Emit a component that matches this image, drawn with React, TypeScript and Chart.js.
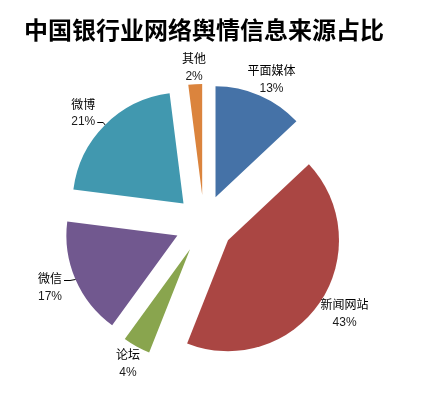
import React, { useEffect, useRef } from "react";
import { Chart, registerables } from "chart.js";

Chart.register(...registerables);

const TITLE = "中国银行业网络舆情信息来源占比";
const categories = ["平面媒体", "新闻网站", "论坛", "微信", "微博", "其他"];
const shares = [13, 43, 4, 17, 21, 2];
const sliceColors = ["#4572A7", "#AA4643", "#89A54E", "#71588F", "#4198AF", "#DB843D"];

const EXPLODE = 29;
const RADIUS = 111;
const LABEL_GAP = 6;
const LABEL_H = 24;
const LEADER_PUSH = 9;
const NAME_FONT = "12px 'Noto Sans CJK SC', sans-serif";
const PCT_FONT = "12px 'Liberation Sans', Arial, sans-serif";

const explodePlugin = {
  id: "explodeSlices",
  afterDatasetUpdate(chart: any, args: any) {
    const meta = chart.getDatasetMeta(args.index);
    meta.data.forEach((arc: any) => {
      const mid = (arc.startAngle + arc.endAngle) / 2;
      arc.x += Math.cos(mid) * EXPLODE;
      arc.y += Math.sin(mid) * EXPLODE;
    });
  },
};

const clamp = (v: number, a: number, b: number) => Math.max(a, Math.min(b, v));

const labelPlugin = {
  id: "sliceLabels",
  afterDatasetsDraw(chart: any) {
    const ctx: CanvasRenderingContext2D = chart.ctx;
    const meta = chart.getDatasetMeta(0);
    const values: number[] = chart.data.datasets[0].data;
    const total = values.reduce((a, b) => a + b, 0);
    ctx.save();
    meta.data.forEach((arc: any, i: number) => {
      const mid = (arc.startAngle + arc.endAngle) / 2;
      const dx = Math.cos(mid);
      const dy = Math.sin(mid);
      const r = arc.outerRadius;
      const name = chart.data.labels[i];
      const pct = Math.round((values[i] / total) * 100) + "%";
      ctx.font = NAME_FONT;
      const w1 = ctx.measureText(name).width;
      ctx.font = PCT_FONT;
      const w2 = ctx.measureText(pct).width;
      const w = Math.max(w1, w2);
      const px = arc.x + dx * (r + LABEL_GAP);
      const py = arc.y + dy * (r + LABEL_GAP);
      const leader = dx < -0.5;
      let cx = px + (dx * w) / 2;
      const cy = py + (dy * LABEL_H) / 2;
      if (leader) cx -= LEADER_PUSH;
      const nameY = cy - 8;
      const pctY = cy + 10;
      if (leader) {
        const ax = arc.x + dx * r;
        const ay = arc.y + dy * r;
        const sx = cx + w / 2 + 2;
        const sy = Math.round(clamp(ay, nameY, pctY)) + 0.5;
        ctx.strokeStyle = "#000";
        ctx.lineWidth = 1;
        ctx.beginPath();
        ctx.moveTo(sx, sy);
        ctx.lineTo(Math.min(sx + 6, ax), sy);
        ctx.lineTo(ax, ay);
        ctx.stroke();
      }
      ctx.fillStyle = "#000";
      ctx.textAlign = "center";
      ctx.textBaseline = "middle";
      ctx.font = NAME_FONT;
      ctx.fillText(name, cx, nameY);
      ctx.font = PCT_FONT;
      ctx.fillStyle = "#1a1a1a";
      ctx.fillText(pct, cx, pctY);
    });
    ctx.restore();
  },
};

const bgPlugin = {
  id: "whiteBg",
  beforeDraw(chart: any) {
    const ctx = chart.ctx;
    ctx.save();
    ctx.fillStyle = "#fff";
    ctx.fillRect(0, 0, chart.width, chart.height);
    ctx.restore();
  },
};

export default function App() {
  const ref = useRef<HTMLCanvasElement | null>(null);
  useEffect(() => {
    if (!ref.current) return;
    const chart = new Chart(ref.current, {
      type: "pie",
      data: {
        labels: categories,
        datasets: [
          {
            data: shares,
            backgroundColor: sliceColors,
            borderWidth: 0,
          },
        ],
      },
      options: {
        responsive: false,
        animation: false,
        events: [],
        radius: RADIUS,
        layout: { padding: { left: 24, right: 38, top: 0, bottom: 0 } },
        plugins: {
          legend: { display: false },
          tooltip: { enabled: false },
          title: {
            display: true,
            text: TITLE,
            align: "start",
            color: "#000",
            font: { family: "'Noto Sans CJK SC', sans-serif", size: 24, weight: "bold" },
            padding: { top: 15, bottom: 7 },
          },
        },
      } as any,
      plugins: [bgPlugin, explodePlugin, labelPlugin],
    });
    return () => chart.destroy();
  }, []);
  return (
    <div style={{ position: "fixed", left: 0, top: 0, width: 422, height: 397, background: "#fff" }}>
      <canvas ref={ref} width={422} height={397} style={{ width: 422, height: 397 }} />
    </div>
  );
}
